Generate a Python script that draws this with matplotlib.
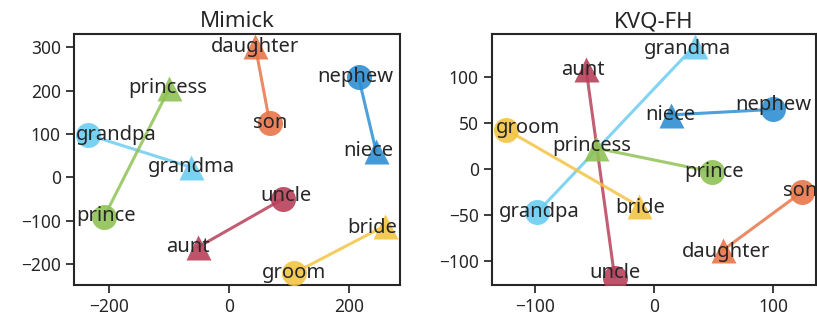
import matplotlib
matplotlib.use("Agg")
import matplotlib.pyplot as plt
import seaborn as sns

sns.set_theme(style="ticks")
plt.rcParams['font.family'] = ['Noto Sans', 'DejaVu Sans']

pairs = [("nephew", "niece"), ("grandpa", "grandma"), ("son", "daughter"),
         ("prince", "princess"), ("uncle", "aunt"), ("groom", "bride")]
colors = ["#2e8fd3", "#6ccdf2", "#e8764a", "#8fc255", "#b8405a", "#f3c545"]

mimick_x = {"nephew": 216, "niece": 245, "grandpa": -234, "grandma": -63,
            "son": 68, "daughter": 44, "prince": -208, "princess": -99,
            "uncle": 90, "aunt": -52, "groom": 108, "bride": 260}
mimick_y = {"nephew": 231, "niece": 61, "grandpa": 98, "grandma": 23,
            "son": 126, "daughter": 303, "prince": -92, "princess": 206,
            "uncle": -50, "aunt": -162, "groom": -222, "bride": -112}

kvq_x = {"nephew": 100, "niece": 14, "grandpa": -98, "grandma": 34,
         "son": 124, "daughter": 58, "prince": 49, "princess": -49,
         "uncle": -33, "aunt": -57, "groom": -124, "bride": -13}
kvq_y = {"nephew": 65, "niece": 59, "grandpa": -47, "grandma": 134,
         "son": -25, "daughter": -88, "prince": -3, "princess": 23,
         "uncle": -118, "aunt": 109, "groom": 43, "bride": -40}

# label nudges in pixels (layout only)
nudge_left = {"nephew": (-3, 0), "niece": (-8, 0), "grandpa": (28, 0), "grandma": (0, 0),
              "son": (0, 0), "daughter": (0, -1), "prince": (2, 1), "princess": (-2, 0),
              "uncle": (3, 3), "aunt": (-10, 0), "groom": (0, 0), "bride": (-13, -2)}
nudge_right = {"nephew": (0, 4), "niece": (0, 0), "grandpa": (2, 0), "grandma": (-7, -3),
               "son": (-2, 1), "daughter": (3, -2), "prince": (2, 0), "princess": (-4, 2),
               "uncle": (0, 5), "aunt": (-3, -1), "groom": (22, 2), "bride": (2, -2)}

panels = [("Mimick", mimick_x, mimick_y, nudge_left, (-258, 285), (-249, 331), [-200, 0, 200], [-200, -100, 0, 100, 200, 300]),
          ("KVQ-FH", kvq_x, kvq_y, nudge_right, (-136, 136), (-126, 147), [-100, 0, 100], [-100, -50, 0, 50, 100])]

fig = plt.figure(figsize=(8.17, 3.22), dpi=100)
boxes = [(74/817, 1-285/322, 326/817, 251/322), (492/817, 1-285/322, 324/817, 251/322)]

for (title, xs, ys, nudge, xl, yl, xt, yt), box in zip(panels, boxes):
    ax = fig.add_axes(box)
    for (m, f), c in zip(pairs, colors):
        ax.plot([xs[m], xs[f]], [ys[m], ys[f]], color=c, lw=2.2, alpha=0.85, zorder=2)
        ax.plot(xs[m], ys[m], 'o', ms=18, color=c, alpha=0.9, mec='none', zorder=3)
        ax.plot(xs[f], ys[f], '^', ms=18, color=c, alpha=0.9, mec='none', zorder=3)
        for w in (m, f):
            ax.annotate(w, (xs[w], ys[w]), xytext=nudge[w], textcoords='offset pixels',
                        ha='center', va='center', fontsize=14.5,
                        color='#262626', zorder=4, annotation_clip=False)
    ax.set_xlim(*xl)
    ax.set_ylim(*yl)
    ax.set_xticks(xt)
    ax.set_yticks(yt)
    ax.tick_params(labelsize=12.5, colors='#262626')
    ax.set_title(title, fontsize=16, color='#262626', pad=5)
    for s in ax.spines.values():
        s.set_color('#262626')
        s.set_linewidth(1.5)

fig.savefig("out.png", dpi=100)
